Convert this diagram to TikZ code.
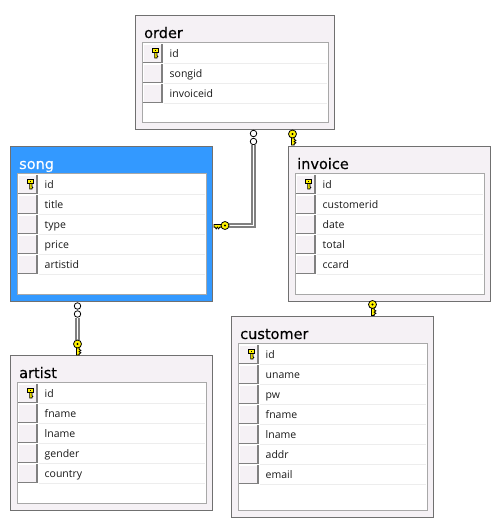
\documentclass[tikz,border=0pt]{standalone}
\usepackage{fontspec}
\setmainfont{DejaVu Sans}
\newfontfamily\titlefont[FakeBold=0.25]{DejaVu Sans}
\newfontfamily\rowfont{Open Sans}
\definecolor{panel}{HTML}{F5F1F5}
\definecolor{edge}{HTML}{707070}
\definecolor{inneredge}{HTML}{A8A8A8}
\definecolor{selblue}{HTML}{3399FF}
\definecolor{keyyellow}{HTML}{FFF200}
\definecolor{rowline}{HTML}{EDEDED}
\tikzset{
  x=1pt,y=-1pt,
  tablebox/.style={draw=edge,line width=1pt,fill=panel,anchor=north west,inner sep=0pt,outer sep=0pt},
  selbox/.style={tablebox,fill=selblue},
  titletext/.style={anchor=base west,inner sep=0pt,font=\titlefont\fontsize{14.5}{16}\selectfont},
  rowtext/.style={anchor=base west,inner sep=0pt,font=\rowfont\fontsize{10.5}{12}\selectfont,text=black!90},
  chainlink/.style={circle,draw=black,line width=0.8pt,fill=white,minimum size=6.5pt,inner sep=0pt},
  relline/.style={draw=gray,line width=4.6pt},
  relcore/.style={draw=white,line width=1.4pt},
  keyanchor/.style={inner sep=0pt,minimum size=8pt,circle},
  keyicon/.pic={
    \fill[keyyellow,draw=black,line width=0.8pt] (-1,2.5) -- (-1,11) -- (1.6,11) -- (1.6,10) -- (3.4,8.8) -- (1.6,7.6) -- (3.4,6.4) -- (1.6,5.2) -- (1.6,2.5) -- cycle;
    \fill[keyyellow,draw=black,line width=0.8pt] (0,0) circle (4);
    \fill[black] (0,0) circle (1.2);
  },
  smallkey/.pic={
    \fill[keyyellow,draw=black,line width=0.7pt] (-0.8,1.5) -- (-0.8,7) -- (1.4,7) -- (1.4,6.2) -- (2.4,5.5) -- (1.4,4.5) -- (1.4,1.5) -- cycle;
    \fill[keyyellow,draw=black,line width=0.7pt] (-2.8,-2.8) rectangle (3,1.8);
    \fill[black] (-0.6,-1.4) rectangle (0.9,-0.2);
  }
}
% name, x, y, w, h, box style, title colour, rows
\newcommand{\dbtable}[8]{%
  \node[#6,minimum width=#4pt,minimum height=#5pt] (#1) at (#2,#3) {};
  \node[titletext,text=#7] (#1-title) at (#2+9,#3+23) {#1};
  \node[draw=inneredge,line width=1pt,fill=white,anchor=north west,inner sep=0pt,minimum width=#4pt-13pt,minimum height=#5pt-34.5pt] (#1-grid) at (#2+6.5,#3+27) {};
  \foreach \rowname [count=\rowi from 0] in {#8} {
    \pgfmathsetmacro{\rowtop}{#3+29+20*\rowi}
    \fill[panel] (#2+8,\rowtop) rectangle +(19,18);
    \draw[white,line width=1pt] (#2+8,\rowtop+18) -- (#2+8,\rowtop) -- (#2+27,\rowtop);
    \draw[gray,line width=1.1pt] (#2+8,\rowtop+18.5) -- (#2+27,\rowtop+18.5) -- (#2+27,\rowtop);
    \draw[rowline,line width=0.8pt] (#2+29,\rowtop+19) -- (#2+#4-7,\rowtop+19);
    \node[rowtext] at (#2+34.5,\rowtop+13.2) {\rowname};
  }
  \pic at (#2+20.5,#3+36) {smallkey};
}
\begin{document}
\begin{tikzpicture}
\useasboundingbox (0,0) rectangle (502,531);
\fill[white] (0,0) rectangle (502,531);
\dbtable{order}{135}{15}{199}{114}{tablebox}{black}{id,songid,invoiceid}
\dbtable{song}{10}{146}{202}{155}{selbox}{white}{id,title,type,price,artistid}
\dbtable{invoice}{288}{146}{202}{155}{tablebox}{black}{id,customerid,date,total,ccard}
\dbtable{artist}{10}{355}{202}{155.5}{tablebox}{black}{id,fname,lname,gender,country}
\dbtable{customer}{231}{316}{202}{201}{tablebox}{black}{id,uname,pw,fname,lname,addr,email}

% order -- song
\node[chainlink] (ol1) at (253.5,133.5) {};
\node[chainlink] (ol2) at (253.5,141.5) {};
\node[keyanchor] (sk) at (225,225.5) {};
\draw[relline] (ol2.south) |- (sk.east);
\draw[relcore] (ol2.south) |- (sk.east);
\pic[rotate=-90] at (sk.center) {keyicon};
% order -- invoice
\node[keyanchor] (ik) at (292.5,134) {};
\pic at (ik.center) {keyicon};
% song -- artist
\node[chainlink] (sl1) at (77.5,306) {};
\node[chainlink] (sl2) at (77.5,314) {};
\node[keyanchor] (ak) at (77.5,344) {};
\draw[relline] (sl2.south) -- (ak.north);
\draw[relcore] (sl2.south) -- (ak.north);
\pic at (ak.center) {keyicon};
% invoice -- customer
\node[keyanchor] (ck) at (372.5,304.5) {};
\pic at (ck.center) {keyicon};
\end{tikzpicture}
\end{document}
